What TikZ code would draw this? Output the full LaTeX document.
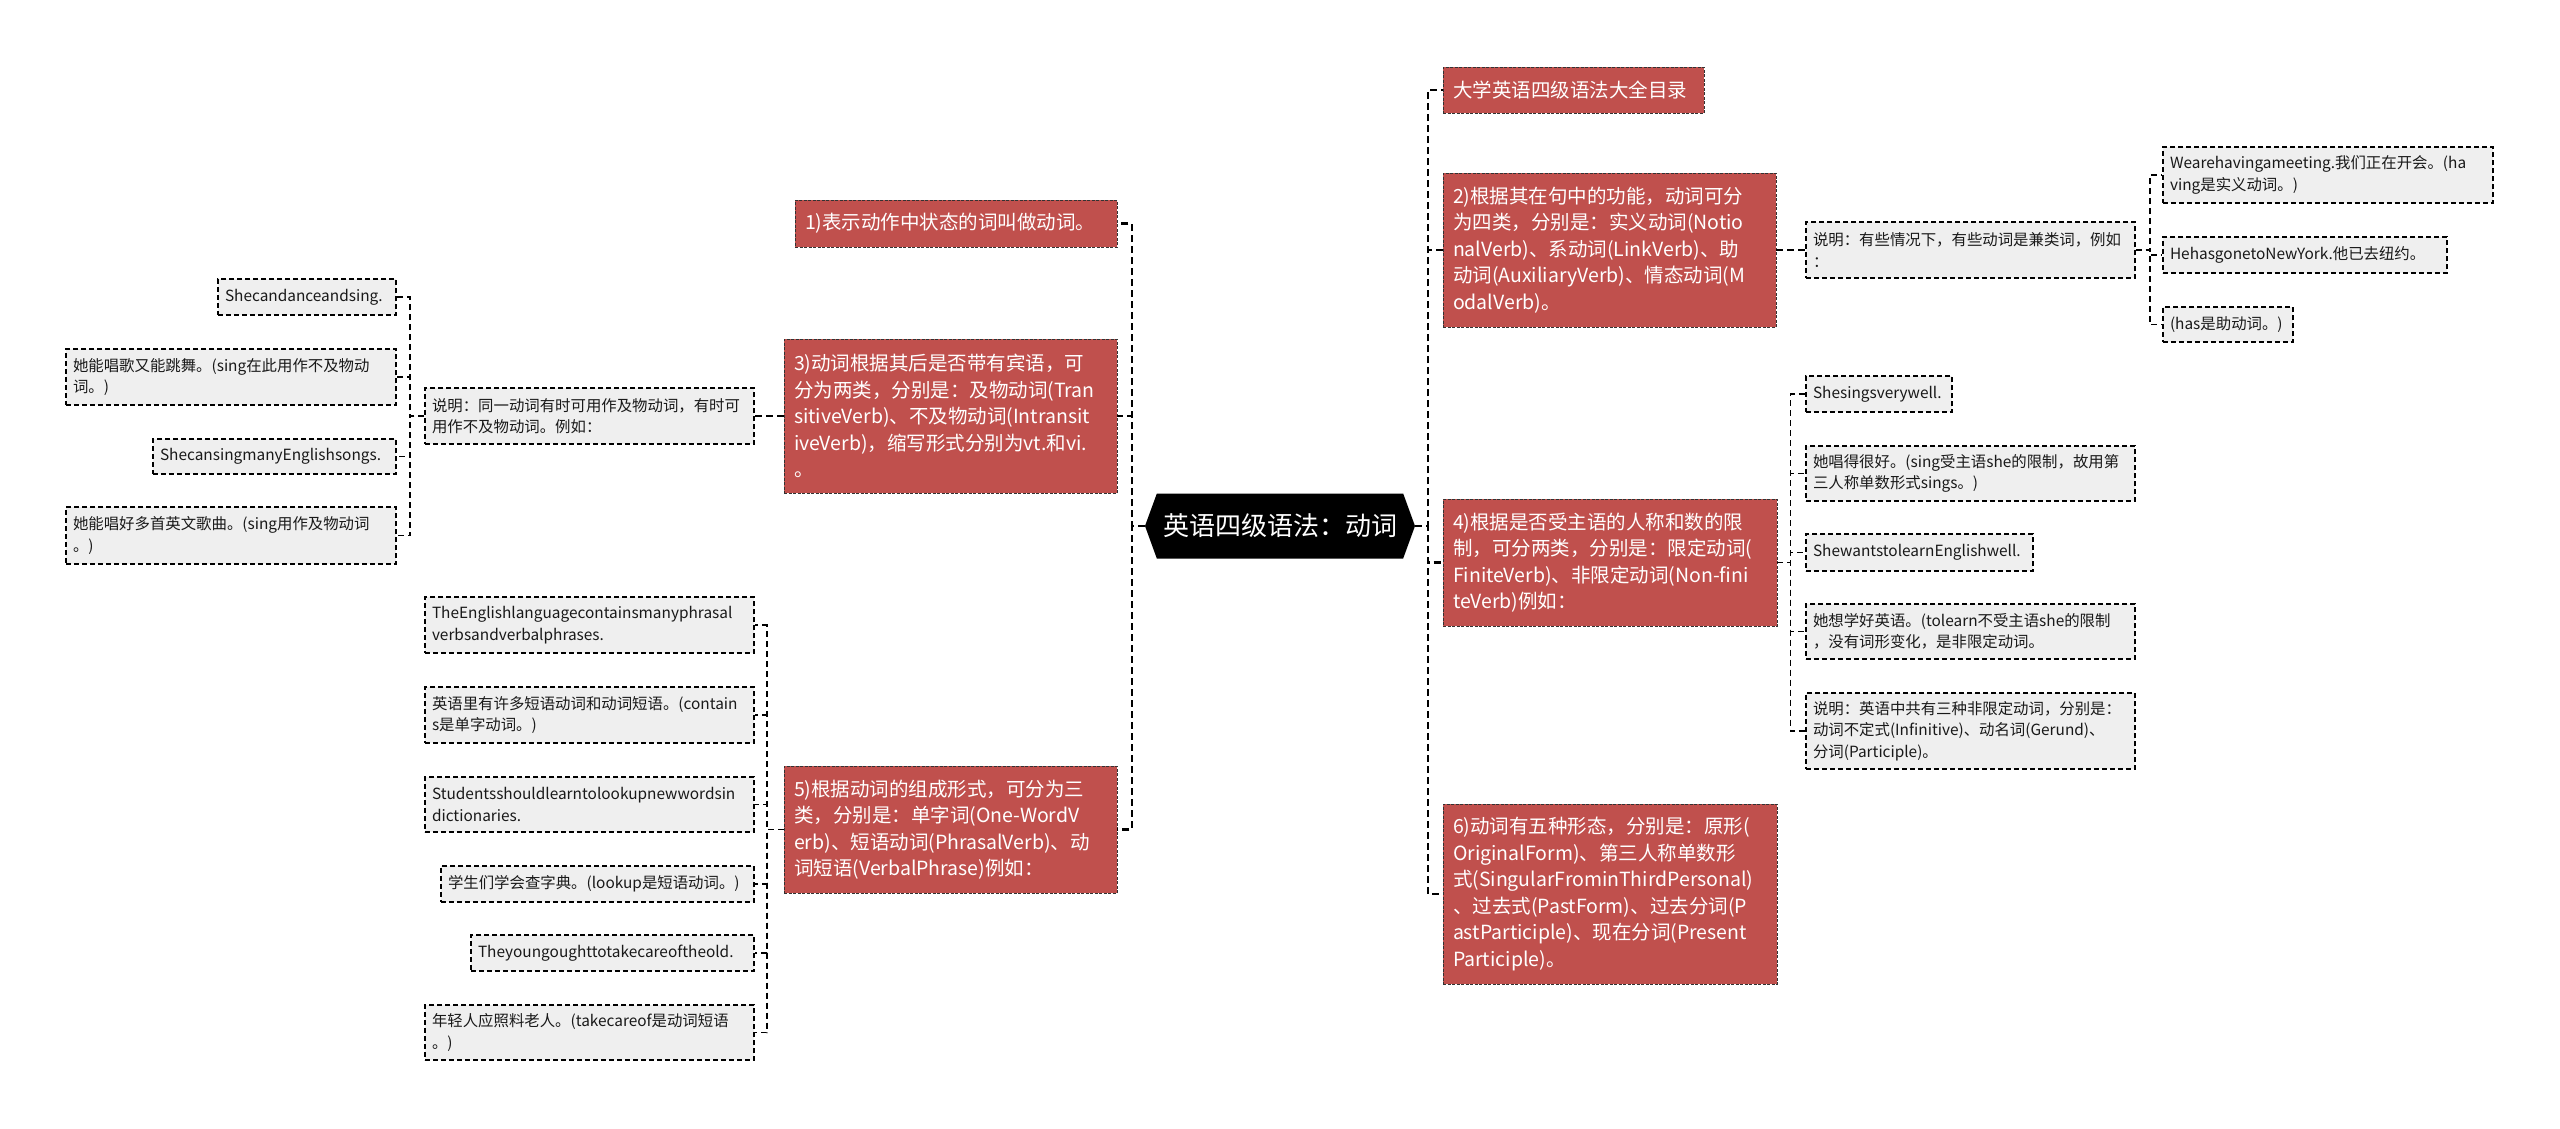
\documentclass[tikz,border=0pt]{standalone}
\usepackage{fontspec}
\setmainfont{Noto Sans CJK SC}
\usepackage{xcolor}
\usetikzlibrary{shapes.symbols}
\definecolor{topicred}{HTML}{C0504D}
\definecolor{leafgrey}{HTML}{EFEFEF}

\begin{document}
\begin{tikzpicture}[
   x=1pt, y=-1pt,
   hub/.style={signal, signal to=west and east, signal pointer angle=140,
               fill=black, text=white, minimum width=270pt, minimum height=65pt,
               inner sep=0pt, font=\fontsize{26}{30}\selectfont},
   topic/.style={draw=black!80, dash pattern=on 3pt off 1.5pt, line width=0.8pt,
               fill=topicred, text=white, align=left, inner xsep=10pt, inner ysep=4pt,
               text width=#1, font=\fontsize{19.5}{26.5}\selectfont},
   leaf/.style={draw=black, dash pattern=on 5pt off 3pt, line width=1.6pt,
               fill=leafgrey, text=black!90, align=left, inner xsep=7pt, inner ysep=3pt,
               text width=#1, font=\fontsize{15.4}{21.5}\selectfont},
   link/.style={draw=black, line width=2.2pt, dash pattern=on 7pt off 4pt},
   sublink/.style={link, line width=1.8pt, dash pattern=on 6pt off 4pt},
]
\fill[white] (0,0) rectangle (2560,1128);
\useasboundingbox (0,0) rectangle (2560,1128);

% ---- centre ----
\node[hub] (hub) at (1280,526) {英语四级语法：动词};

% ---- left topics ----
\node[topic=302pt, minimum height=47pt] (t1) at (956,223.5)
   {1)表示动作中状态的词叫做动词。};
\node[topic=313pt, minimum height=154pt] (t3) at (950.5,416)
   {3)动词根据其后是否带有宾语，可\\分为两类，分别是：及物动词(Tran\\sitiveVerb)、不及物动词(Intransit\\iveVerb)，缩写形式分别为vt.和vi.\\。};
\node[topic=313pt, minimum height=127pt] (t5) at (950.5,829.5)
   {5)根据动词的组成形式，可分为三\\类，分别是：单字词(One-WordV\\erb)、短语动词(PhrasalVerb)、动\\词短语(VerbalPhrase)例如：};

% ---- topic 3 examples ----
\node[leaf=315pt, minimum height=56pt] (e3) at (589.5,416)
   {说明：同一动词有时可用作及物动词，有时可\\用作不及物动词。例如：};
\node[leaf=164pt, minimum height=36pt] (a1) at (307,297) {Shecandanceandsing.};
\node[leaf=316pt, minimum height=56pt] (a2) at (231,377)
   {她能唱歌又能跳舞。(sing在此用作不及物动\\词。)};
\node[leaf=229pt, minimum height=35pt] (a3) at (274.5,456.5) {ShecansingmanyEnglishsongs.};
\node[leaf=316pt, minimum height=57pt] (a4) at (231,535.5)
   {她能唱好多首英文歌曲。(sing用作及物动词\\。)};

% ---- topic 5 examples ----
\node[leaf=315pt, minimum height=56pt] (b1) at (589.5,625)
   {TheEnglishlanguagecontainsmanyphrasal\\verbsandverbalphrases.};
\node[leaf=315pt, minimum height=56pt] (b2) at (589.5,715)
   {英语里有许多短语动词和动词短语。(contain\\s是单字动词。)};
\node[leaf=315pt, minimum height=55pt] (b3) at (589.5,804.5)
   {Studentsshouldlearntolookupnewwordsin\\dictionaries.};
\node[leaf=299pt, minimum height=36pt] (b4) at (597.5,884) {学生们学会查字典。(lookup是短语动词。)};
\node[leaf=269pt, minimum height=36pt] (b5) at (612.5,953) {Theyoungoughttotakecareoftheold.};
\node[leaf=315pt, minimum height=55pt] (b6) at (589.5,1032.5)
   {年轻人应照料老人。(takecareof是动词短语\\。)};

% ---- right topics ----
\node[topic=241pt, minimum height=46pt] (t0) at (1573.5,90) {大学英语四级语法大全目录};
\node[topic=313pt, minimum height=154pt] (t2) at (1609.5,250)
   {2)根据其在句中的功能，动词可分\\为四类，分别是：实义动词(Notio\\nalVerb)、系动词(LinkVerb)、助\\动词(AuxiliaryVerb)、情态动词(M\\odalVerb)。};
\node[topic=314pt, minimum height=127pt] (t4) at (1610,562.5)
   {4)根据是否受主语的人称和数的限\\制，可分两类，分别是：限定动词(\\FiniteVerb)、非限定动词(Non-fini\\teVerb)例如：};
\node[topic=314pt, minimum height=180pt] (t6) at (1610,894)
   {6)动词有五种形态，分别是：原形(\\OriginalForm)、第三人称单数形\\式(SingularFrominThirdPersonal)\\、过去式(PastForm)、过去分词(P\\astParticiple)、现在分词(Present\\Participle)。};

% ---- topic 2 examples ----
\node[leaf=315pt, minimum height=56pt] (e2) at (1970.5,250)
   {说明：有些情况下，有些动词是兼类词，例如\\：};
\node[leaf=316pt, minimum height=56pt] (c1) at (2328,175)
   {Wearehavingameeting.我们正在开会。(ha\\ving是实义动词。)};
\node[leaf=270pt, minimum height=36pt] (c2) at (2305,255) {HehasgonetoNewYork.他已去纽约。};
\node[leaf=116pt, minimum height=35pt] (c3) at (2228,324.5) {(has是助动词。)};

% ---- topic 4 examples ----
\node[leaf=132pt, minimum height=36pt] (d1) at (1879,394) {Shesingsverywell.};
\node[leaf=315pt, minimum height=55pt] (d2) at (1970.5,473.5)
   {她唱得很好。(sing受主语she的限制，故用第\\三人称单数形式sings。)};
\node[leaf=213pt, minimum height=37pt] (d3) at (1919.5,552.5) {ShewantstolearnEnglishwell.};
\node[leaf=315pt, minimum height=55pt] (d4) at (1970.5,631.5)
   {她想学好英语。(tolearn不受主语she的限制\\，没有词形变化，是非限定动词。};
\node[leaf=315pt, minimum height=76pt] (d5) at (1970.5,731)
   {说明：英语中共有三种非限定动词，分别是：\\动词不定式(Infinitive)、动名词(Gerund)、\\分词(Participle)。};

% ---- links ----
\foreach \t in {t1,t3,t5}
   \draw[link] (hub.west) -- ++(-13,0) |- (\t.east);
\foreach \t in {t0,t2,t4,t6}
   \draw[link] (hub.east) -- ++(13,0) |- (\t.west);
\draw[link] (t3.west) -- (e3.east);
\foreach \a in {a1,a2,a3,a4}
   \draw[sublink] (e3.west) -- ++(-14,0) |- (\a.east);
\foreach \b in {b1,b2,b3,b4,b5,b6}
   \draw[sublink] (t5.west) -- ++(-17,0) |- (\b.east);
\draw[link] (t2.east) -- (e2.west);
\foreach \c in {c1,c2,c3}
   \draw[sublink] (e2.east) -- ++(14,0) |- (\c.west);
\foreach \d in {d1,d2,d3,d4,d5}
   \draw[sublink] (t4.east) -- ++(13,0) |- (\d.west);
\end{tikzpicture}
\end{document}
